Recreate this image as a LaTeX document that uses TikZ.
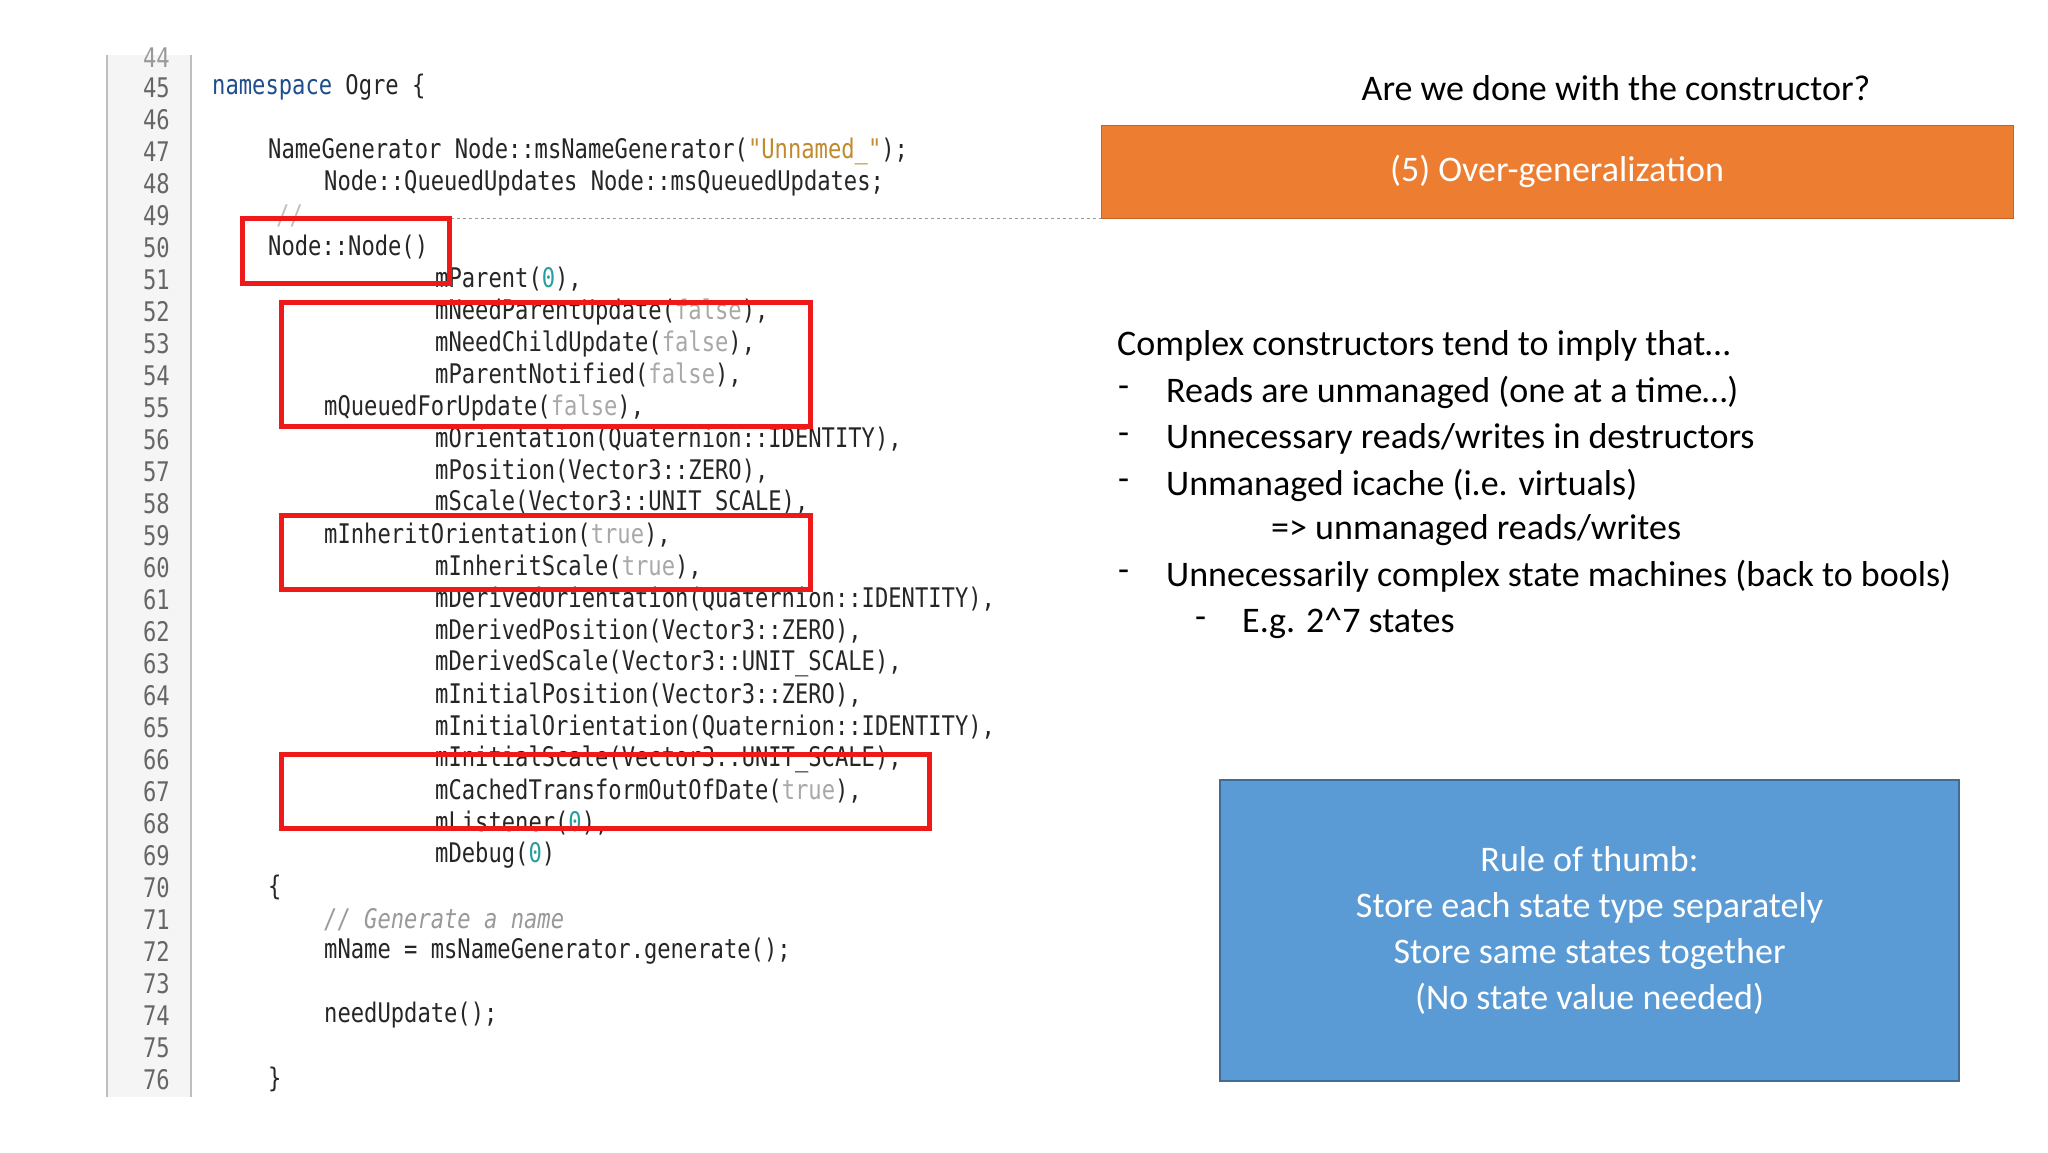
\documentclass[tikz,border=0pt]{standalone}
\usepackage{fontspec}
\setmainfont{Carlito}
\newfontfamily\codef[FakeStretch=0.82]{DejaVu Sans Mono}
\definecolor{kw}{HTML}{1F4E8C}
\definecolor{str}{HTML}{C08A2E}
\definecolor{bool}{HTML}{A8A8A8}
\definecolor{num}{HTML}{2A9D9D}
\definecolor{redb}{HTML}{EE1A1A}
\definecolor{orangeb}{HTML}{ED7D31}
\definecolor{blueb}{HTML}{5B9BD5}
\begin{document}
\begin{tikzpicture}[x=1pt,y=-1pt,
  code/.style={anchor=west,inner sep=0pt,font=\codef\fontsize{27}{27}\selectfont,text=black!85},
  ln/.style={anchor=east,inner sep=0pt,font=\codef\fontsize{27}{27}\selectfont,text=black!60},
  rbox/.style={draw=redb,line width=5pt},
  body/.style={anchor=west,inner sep=0pt,font=\fontsize{36}{36}\selectfont}]
\useasboundingbox (0,0) rectangle (2048,1152);
\fill[white] (0,0) rectangle (2048,1152);
% gutter
\fill[black!4] (107,55) rectangle (191,1097);
\draw[black!25,line width=1.5pt] (107,55) -- (107,1097);
\draw[black!25,line width=1.5pt] (191,55) -- (191,1097);
\foreach \n in {45,...,76}{\node[ln] (l\n) at (170,{87.5+(\n-45)*32}) {\n};}
\node[ln,text=black!40] (l44) at (170,58) {44};
% code
\node[code] (c45) at (212,87.5) {\textcolor{kw}{namespace} Ogre \{};
\node[code] (c47) at (268,151.5) {NameGenerator Node::msNameGenerator(\textcolor{str}{"Unnamed\_"});};
\node[code] (c48) at (324,183.5) {Node::QueuedUpdates Node::msQueuedUpdates;};
\node[code,text=black!25] (c49) at (276,215.5) {//};
\draw[black!40,dashed,line width=1pt] (307,218) -- (1101,218);
\node[code] (c50) at (268,247.5) {Node::Node()};
\node[code] (c51) at (435,279.5) {mParent(\textcolor{num}{0}),};
\node[code] (c52) at (435,311.5) {mNeedParentUpdate(\textcolor{bool}{false}),};
\node[code] (c53) at (435,343.5) {mNeedChildUpdate(\textcolor{bool}{false}),};
\node[code] (c54) at (435,375.5) {mParentNotified(\textcolor{bool}{false}),};
\node[code] (c55) at (324,407.5) {mQueuedForUpdate(\textcolor{bool}{false}),};
\node[code] (c56) at (435,439.5) {mOrientation(Quaternion::IDENTITY),};
\node[code] (c57) at (435,471.5) {mPosition(Vector3::ZERO),};
\node[code] (c58) at (435,503.5) {mScale(Vector3::UNIT\_SCALE),};
\node[code] (c59) at (324,535.5) {mInheritOrientation(\textcolor{bool}{true}),};
\node[code] (c60) at (435,567.5) {mInheritScale(\textcolor{bool}{true}),};
\node[code] (c61) at (435,599.5) {mDerivedOrientation(Quaternion::IDENTITY),};
\node[code] (c62) at (435,631.5) {mDerivedPosition(Vector3::ZERO),};
\node[code] (c63) at (435,663.5) {mDerivedScale(Vector3::UNIT\_SCALE),};
\node[code] (c64) at (435,695.5) {mInitialPosition(Vector3::ZERO),};
\node[code] (c65) at (435,727.5) {mInitialOrientation(Quaternion::IDENTITY),};
\node[code] (c66) at (435,759.5) {mInitialScale(Vector3::UNIT\_SCALE),};
\node[code] (c67) at (435,791.5) {mCachedTransformOutOfDate(\textcolor{bool}{true}),};
\node[code] (c68) at (435,823.5) {mListener(\textcolor{num}{0}),};
\node[code] (c69) at (435,855.5) {mDebug(\textcolor{num}{0})};
\node[code] (c70) at (268,887.5) {\{};
\node[code,text=black!40] (c71) at (324,919.5) {\itshape // Generate a name};
\node[code] (c72) at (324,951.5) {mName = msNameGenerator.generate();};
\node[code] (c74) at (324,1015.5) {needUpdate();};
\node[code] (c76) at (268,1079.5) {\}};
% red boxes
\draw[rbox] (242,218) rectangle (449,283);
\draw[rbox] (281,302) rectangle (810,426);
\draw[rbox] (281,515) rectangle (810,589);
\draw[rbox] (281,754) rectangle (929,828);
% right side
\node[font=\fontsize{36}{36}\selectfont,inner sep=0pt] (title) at (1616,88) {Are we done with the constructor?};
\node[draw=orangeb!80!black,fill=orangeb,line width=1pt,minimum width=912pt,minimum height=93pt,text=white,font=\fontsize{36}{36}\selectfont] (og) at (1557,171.5) {(5) Over-generalization};
\node[body] (t0) at (1117,346) {Complex constructors tend to imply that\ldots};
\node[body] (d1) at (1118,392) {-};
\node[body] (t1) at (1166,392) {Reads are unmanaged (one at a time\ldots)};
\node[body] (d2) at (1118,439) {-};
\node[body] (t2) at (1166,439) {Unnecessary reads/writes in destructors};
\node[body] (d3) at (1118,485) {-};
\node[body] (t3) at (1166,485) {Unmanaged icache (i.e. virtuals)};
\node[body] (t4) at (1271,530) {=> unmanaged reads/writes};
\node[body] (d5) at (1118,576) {-};
\node[body] (t5) at (1166,576) {Unnecessarily complex state machines (back to bools)};
\node[body] (d6) at (1195,623) {-};
\node[body] (t6) at (1242,623) {E.g. 2\^{}7 states};
\node[draw=blueb!70!black,fill=blueb,line width=1.5pt,minimum width=739pt,minimum height=301pt,text=white,align=center,font=\fontsize{36}{46}\selectfont] (rule) at (1589.5,930.5) {Rule of thumb:\\Store each state type separately\\Store same states together\\(No state value needed)};
\end{tikzpicture}
\end{document}
